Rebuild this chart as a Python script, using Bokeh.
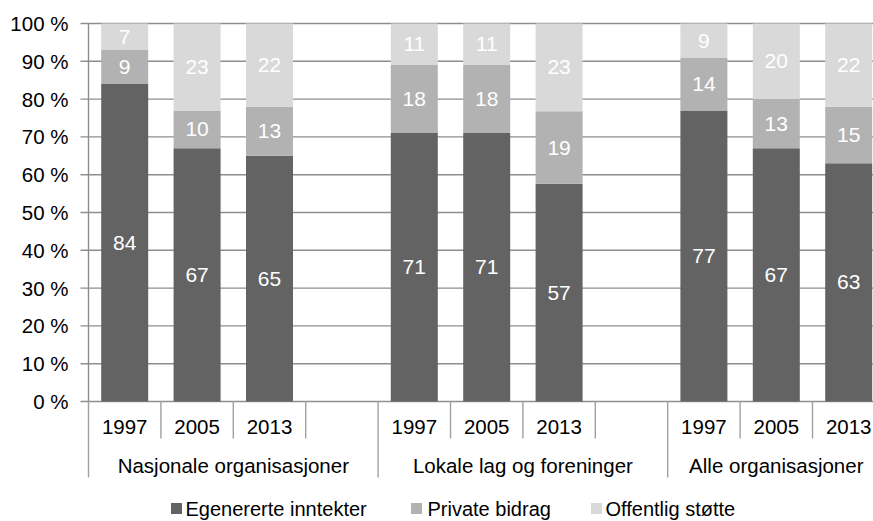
import numpy as np
from bokeh.plotting import figure
from bokeh.models import ColumnDataSource, Range1d
from bokeh.core.properties import value
from bokeh.embed import file_html
from bokeh.resources import INLINE

# ---------------- data ----------------
groups = ["Nasjonale organisasjoner", "Lokale lag og foreninger", "Alle organisasjoner"]
years = ["1997", "2005", "2013"]
egen = [84, 67, 65, 71, 71, 57, 77, 67, 63]
privat = [9, 10, 13, 18, 18, 19, 14, 13, 15]
offentlig = [7, 23, 22, 11, 11, 23, 9, 20, 22]
series_names = ["Egenererte inntekter", "Private bidrag", "Offentlig støtte"]
y_ticks = list(range(0, 101, 10))
y_tick_labels = [f"{t} %" for t in y_ticks]

# ---------------- layout / style ----------------
colors = ["#636363", "#b2b2b2", "#d9d9d9"]
FONT = "Liberation Sans"
W, H = 873, 521
SLOT = 72.4          # px per category slot
PPU = 3.78           # px per percent
LEFT_PX = 88         # x of value axis
ZERO_PX = 401        # y of 0 %

def xp(px):
    return (px - LEFT_PX) / SLOT

def yp(py):
    return -(py - ZERO_PX) / PPU

x0 = xp(0)
y1 = yp(0)
x_range = Range1d(x0, x0 + W / SLOT)
y_range = Range1d(y1 - H / PPU, y1)

p = figure(width=W, height=H, x_range=x_range, y_range=y_range,
           x_axis_type=None, y_axis_type=None, output_backend="svg",
           toolbar_location=None, min_border=0, outline_line_color=None,
           background_fill_color="white", border_fill_color="white")

# slots: each group has its years plus a spacer slot (except the last group)
group_sizes = [len(years) + 1, len(years) + 1, len(years)]
group_starts = np.concatenate([[0], np.cumsum(group_sizes)[:-1]])
x_centers = []
year_lbls = []
for gs in group_starts:
    for j, yr in enumerate(years):
        x_centers.append(gs + j + 0.5)
        year_lbls.append(yr)
x_centers = np.array(x_centers)

vals = np.array([egen, privat, offentlig], dtype=float)
pct = vals / vals.sum(axis=0) * 100
tops = np.cumsum(pct, axis=0)
bottoms = tops - pct

# gridlines
grid_x0 = xp(80)
p.segment(x0=[grid_x0] * len(y_ticks), x1=[x_range.end] * len(y_ticks),
          y0=y_ticks, y1=y_ticks, line_color="#8e8e8e", line_width=1.4)

# bars
for k in range(3):
    src = ColumnDataSource(dict(x=x_centers, top=tops[k], bottom=bottoms[k],
                                mid=(tops[k] + bottoms[k]) / 2,
                                lbl=[str(int(v)) for v in vals[k]]))
    p.vbar(x="x", top="top", bottom="bottom", width=47 / SLOT, source=src,
           fill_color=colors[k], line_color=None)
    p.text(x="x", y="mid", text="lbl", source=src, text_align="center",
           text_baseline="middle", text_color="white",
           text_font=value(FONT), text_font_size="21px")

# y tick labels
p.text(x=[0] * len(y_ticks), y=y_ticks, text=y_tick_labels, x_offset=-20,
       text_align="right", text_baseline="middle", text_color="black",
       text_font=value(FONT), text_font_size="20.5px")

# value axis line (continues down as the first group separator)
long_y = yp(477)
short_y = yp(438)
p.segment(x0=[0], x1=[0], y0=[100], y1=[0], line_color="#8e8e8e", line_width=1.4)

# category axis separators
total_slots = int(sum(group_sizes))
group_bounds = set(np.concatenate([[0], np.cumsum(group_sizes)]).tolist())
sep_x = list(range(0, total_slots + 1))
sep_end = [long_y if s in group_bounds else short_y for s in sep_x]
p.segment(x0=sep_x, x1=sep_x, y0=[0] * len(sep_x), y1=sep_end,
          line_color="#a0a0a0", line_width=1.4)

# year labels
p.text(x=x_centers, y=[yp(426.5)] * len(x_centers), text=year_lbls,
       text_align="center", text_baseline="middle", text_color="black",
       text_font=value(FONT), text_font_size="20.5px")

# group labels
group_centers = group_starts + np.array(group_sizes) / 2
p.text(x=group_centers, y=[yp(464.5)] * len(groups), text=groups,
       text_align="center", text_baseline="middle", text_color="black",
       text_font=value(FONT), text_font_size="20.5px")

# legend
leg_y = yp(508)
sq_x = [xp(176), xp(416), xp(596)]
tx_x = [xp(185), xp(427), xp(605)]
p.scatter(x=sq_x, y=[leg_y] * 3, marker="square", size=11,
          fill_color=colors, line_color=None)
p.text(x=tx_x, y=[leg_y] * 3, text=series_names, text_align="left",
       text_baseline="middle", text_color="black",
       text_font=value(FONT), text_font_size="20px")

open("out.html", "w").write(file_html(p, INLINE))
